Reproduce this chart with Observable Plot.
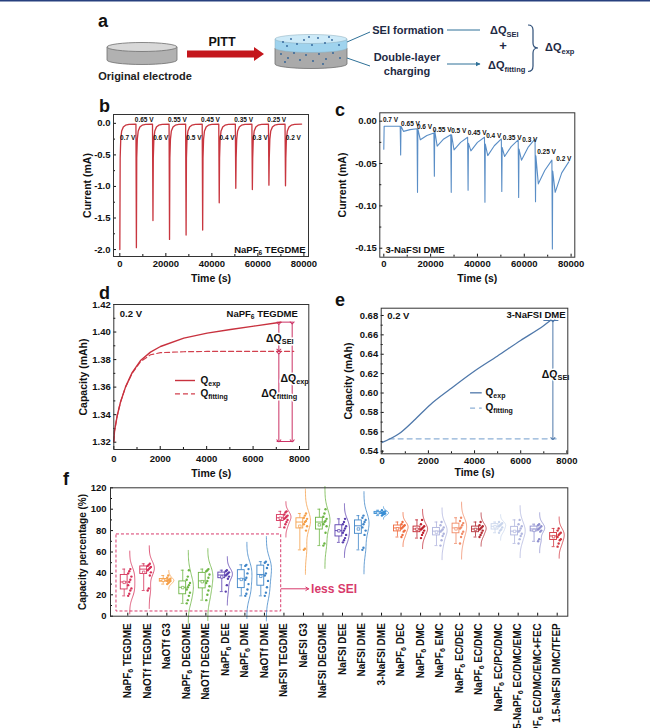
<!DOCTYPE html>
<html>
<head>
<meta charset="utf-8">
<script src="https://cdn.jsdelivr.net/npm/d3@7"></script>
<script src="https://cdn.jsdelivr.net/npm/@observablehq/plot@0.6"></script>
<style>
  html, body { margin: 0; padding: 0; background: #fff; overflow: hidden; }
  #fig { position: relative; width: 650px; height: 728px; font-family: "Liberation Sans", Arial, sans-serif; }
  .panel { position: absolute; }
</style>
</head>
<body>
<div id="fig">
  <!-- panel a: schematic -->
  <svg class="panel" style="left:0;top:0" width="650" height="100" font-family="Liberation Sans, Arial, sans-serif" font-weight="bold">
    <defs>
      <marker id="ah" viewBox="0 0 10 10" refX="9" refY="5" markerWidth="5" markerHeight="5" orient="auto">
        <path d="M0,0 L10,5 L0,10 Z" fill="#2f7198"/>
      </marker>
    </defs>
    <rect x="0" y="0" width="650" height="1.5" fill="#27407e"/>
    <text x="98" y="27" font-size="18" fill="#111">a</text>
    <path d="M107,47 L107,60 A35,4.5 0 0 0 177,60 L177,47 Z" fill="#b1b1b1" stroke="#6e6e6e" stroke-width="0.8"/>
    <ellipse cx="142" cy="47" rx="35" ry="4.5" fill="#d8d8d8" stroke="#6e6e6e" stroke-width="0.8"/>
    <text x="145" y="80" font-size="11" text-anchor="middle" fill="#222">Original electrode</text>
    <text x="222" y="46" font-size="12.5" text-anchor="middle" fill="#111">PITT</text>
    <path d="M187,50.5 L254,50.5 L254,47 L264,54 L254,61 L254,57.5 L187,57.5 Z" fill="#c4161c"/>
    <path d="M275,48 L275,64 A36,4.5 0 0 0 347,64 L347,48 Z" fill="#aaaaaa" stroke="#707070" stroke-width="0.8"/>
    <path d="M275,39 L275,48 A36,4.5 0 0 0 347,48 L347,39 Z" fill="#9fd3ee" stroke="#8ab" stroke-width="0.5"/>
    <ellipse cx="311" cy="39" rx="36" ry="4.5" fill="#cdeaf8" stroke="#8ab" stroke-width="0.5"/>
    <g fill="#2b5f95">
      <circle cx="283" cy="42" r="0.9"/><circle cx="291" cy="39" r="0.9"/><circle cx="297" cy="44" r="0.9"/>
      <circle cx="304" cy="40" r="0.9"/><circle cx="312" cy="45" r="0.9"/><circle cx="318" cy="38" r="0.9"/>
      <circle cx="325" cy="43" r="0.9"/><circle cx="332" cy="40" r="0.9"/><circle cx="339" cy="45" r="0.9"/>
      <circle cx="287" cy="46" r="0.9"/><circle cx="309" cy="37" r="0.9"/><circle cx="329" cy="37" r="0.9"/>
      <circle cx="281" cy="54" r="0.9"/><circle cx="288" cy="58" r="0.9"/><circle cx="294" cy="53" r="0.9"/>
      <circle cx="300" cy="60" r="0.9"/><circle cx="306" cy="55" r="0.9"/><circle cx="313" cy="61" r="0.9"/>
      <circle cx="319" cy="54" r="0.9"/><circle cx="326" cy="59" r="0.9"/><circle cx="333" cy="53" r="0.9"/>
      <circle cx="340" cy="58" r="0.9"/><circle cx="285" cy="62" r="0.9"/><circle cx="323" cy="64" r="0.9"/>
    </g>
    <path d="M347,42 L370,32 M347,58 L370,66" stroke="#2f7198" stroke-width="1" fill="none"/>
    <g fill="#1e2a44" text-anchor="middle" font-size="11">
      <text x="408" y="34">SEI formation</text>
      <text x="407" y="61">Double-layer</text>
      <text x="407" y="75">charging</text>
    </g>
    <path d="M447,30 L480,30 M447,64 L480,64" stroke="#2f7198" stroke-width="1" marker-end="url(#ah)"/>
    <g fill="#1e2a44" font-size="11">
      <text x="490" y="34">ΔQ<tspan font-size="7.5" dy="2.5">SEI</tspan></text>
      <text x="503" y="50" text-anchor="middle" font-size="13">+</text>
      <text x="488" y="69">ΔQ<tspan font-size="7.5" dy="2.5">fitting</tspan></text>
      <text x="545" y="51">ΔQ<tspan font-size="7.5" dy="2.5">exp</tspan></text>
    </g>
    <path d="M528,25 Q533,25 533,30 L533,43 Q533,48 538,48 Q533,48 533,53 L533,66 Q533,71.5 528,71.5" stroke="#2e4f78" stroke-width="1.2" fill="none"/>
  </svg>

  <div id="pb" class="panel" style="left:40px;top:100px;width:280px;height:195px"></div>
  <div id="pc" class="panel" style="left:320px;top:100px;width:270px;height:195px"></div>
  <div id="pd" class="panel" style="left:40px;top:290px;width:280px;height:190px"></div>
  <div id="pe" class="panel" style="left:320px;top:295px;width:260px;height:190px"></div>
  <div id="pf" class="panel" style="left:50px;top:475px;width:530px;height:253px"></div>

  <svg class="panel" style="left:0;top:0;pointer-events:none" width="650" height="728" font-family="Liberation Sans, Arial, sans-serif" font-weight="bold" font-size="18" fill="#111">
    <text x="99" y="112">b</text>
    <text x="335" y="116">c</text>
    <text x="99" y="299">d</text>
    <text x="335" y="306">e</text>
    <text x="63" y="485">f</text>
  </svg>
</div>

<script>
// ---------- data ----------
const stepTimes = [0, 7200, 14400, 21600, 28800, 36000, 43200, 50400, 57600, 64800, 72000];
const stepVolts = ["0.7 V", "0.65 V", "0.6 V", "0.55 V", "0.5 V", "0.45 V", "0.4 V", "0.35 V", "0.3 V", "0.25 V", "0.2 V"];

// b: NaPF6 TEGDME current transients
const bPeak = [-2.00, -1.97, -1.54, -1.84, -1.77, -1.69, -1.26, -1.03, -1.05, -0.98, -0.99];
const bRelaxDt = [150, 400, 800, 1500, 2500, 4000, 7000];
const bRelaxI = [-0.55, -0.25, -0.12, -0.06, -0.03, -0.018, -0.012];

// c: 3-NaFSI DME current transients
const cDt = [0, 150, 1200, 4000, 7000];
const cSpike   = [-0.033, -0.040, -0.084, -0.065, -0.084, -0.0815, -0.0957, -0.083, -0.090, -0.095, -0.151];
const cRebound = [-0.006, -0.006, -0.009, -0.011, -0.016, -0.026, -0.027, -0.031, -0.033, -0.041, -0.059];
const cDip     = [-0.006, -0.012, -0.022, -0.0295, -0.034, -0.035, -0.0406, -0.0417, -0.046, -0.074, -0.084];
const cMid     = [-0.006, -0.010, -0.017, -0.021, -0.025, -0.025, -0.029, -0.030, -0.031, -0.058, -0.061];
const cEnd     = [-0.006, -0.009, -0.014, -0.016, -0.019, -0.019, -0.021, -0.022, -0.021, -0.046, -0.048];
const cLabelT = [2860, 11400, 17380, 24940, 32030, 39890, 46980, 54840, 62360, 69500, 76890];
const cLabelI = [0.0017, -0.0035, -0.0071, -0.0102, -0.011, -0.0142, -0.0169, -0.0196, -0.022, -0.0366, -0.0444];

// d: NaPF6 TEGDME capacity at 0.2 V
const dExpTime = [0, 30, 144, 287, 503, 790, 1150, 1580, 2010, 3016, 4022, 5027, 6032, 7038, 7200];
const dExpQ = [1.3205, 1.328, 1.339, 1.349, 1.360, 1.3705, 1.3793, 1.3854, 1.3895, 1.3956, 1.3992, 1.4018, 1.4043, 1.4067, 1.4072];
const dFitTime = [0, 30, 144, 287, 503, 790, 1150, 1580, 2010, 3016, 4022, 7750];
const dFitQ = [1.3205, 1.328, 1.339, 1.349, 1.360, 1.3700, 1.3785, 1.3835, 1.3850, 1.3857, 1.3859, 1.3859];

// e: 3-NaFSI DME capacity at 0.2 V
const eExpTime = [0, 722, 1372, 2094, 2960, 3971, 4982, 5993, 7004, 7290];
const eExpQ = [0.549, 0.5579, 0.5716, 0.5882, 0.6043, 0.6222, 0.638, 0.6542, 0.6697, 0.6748];
const eFitTime = [300, 7650];
const eFitQ = [0.5527, 0.5527];

// f: capacity percentage per electrolyte
const fNames = ["NaPF_{6} TEGDME", "NaOTf TEGDME", "NaOTf G3", "NaPF_{6} DEGDME", "NaOTf DEGDME",
  "NaPF_{6} DEE", "NaPF_{6} DME", "NaOTf DME", "NaFSI TEGDME", "NaFSI G3", "NaFSI DEGDME", "NaFSI DEE",
  "NaFSI DME", "3-NaFSI DME", "NaPF_{6} DEC", "NaPF_{6} DMC", "NaPF_{6} EMC", "NaPF_{6} EC/DEC",
  "NaPF_{6} EC/DMC", "NaPF_{6} EC/PC/DMC", "1.5-NaPF_{6} EC/DMC/EMC", "NaPF_{6} EC/DMC/EMC+FEC", "1.5-NaFSI DMC/TFEP"];
const fColors = ["#d6325a", "#d6325a", "#f5a04a", "#6db544", "#6db544", "#5a3fae", "#3f85c8", "#3f85c8",
  "#d6325a", "#f5a04a", "#6db544", "#5a3fae", "#3f85c8", "#3a8ed4", "#ef6a3c", "#c0222e", "#aeb3dd",
  "#f08a66", "#b32a32", "#c9d5ec", "#b1b6de", "#8f90cf", "#d2353f"];
const fValues = [
  [19, 21, 24, 26, 29, 32, 34, 37, 40, 42, 44],
  [24, 26, 38, 41, 43, 44, 45, 46, 47, 48, 49],
  [30, 31, 32, 33, 33, 34, 34, 35, 36, 38],
  [12, 15, 19, 22, 25, 27, 29, 31, 34, 37, 43],
  [15, 20, 24, 28, 31, 33, 36, 39, 42, 43, 44],
  [23, 29, 35, 37, 38, 39, 40, 41, 42, 43],
  [19, 21, 25, 30, 34, 36, 40, 44, 47, 48],
  [19, 22, 27, 33, 38, 40, 45, 48, 50, 51],
  [83, 86, 88, 90, 91, 92, 93, 94, 95, 97, 98],
  [62, 63, 80, 84, 86, 88, 89, 91, 92, 94, 96],
  [66, 68, 78, 84, 86, 88, 89, 91, 93, 96, 100],
  [69, 71, 73, 76, 78, 80, 82, 84, 86, 88, 91],
  [62, 64, 76, 80, 83, 86, 88, 90, 92, 94],
  [94, 95, 95.5, 96, 96.5, 97, 97.5, 98, 99],
  [74, 76, 79, 80, 82, 83, 84, 85, 86, 88],
  [73, 76, 78, 80, 81, 82, 83, 84, 86, 90],
  [66, 71, 75, 77, 79, 80, 81, 83, 85, 88],
  [68, 74, 77, 79, 82, 83, 85, 87, 89, 92],
  [74, 76, 78, 80, 81, 82, 83, 84, 85, 88],
  [78, 80, 81, 83, 84, 85, 86, 87, 88],
  [68, 72, 75, 77, 79, 80, 82, 84, 86, 90],
  [70, 72, 79, 80, 81, 82, 83, 84, 85, 86],
  [65, 68, 71, 72, 74, 76, 77, 78, 80, 82]
];

// ---------- helpers ----------
const NS = "http://www.w3.org/2000/svg";
const FONT = '"Liberation Sans", Arial, sans-serif';
const baseStyle = {fontFamily: FONT, fontSize: "9.5px", fontWeight: "bold", color: "#111", background: "transparent", overflow: "visible"};
const txt = d => d;

// turn "_{...}" into real subscript tspans
function subify(root) {
  root.querySelectorAll("text, tspan").forEach(el => {
    if (el.childElementCount) return;
    const s = el.textContent;
    if (!s.includes("_{")) return;
    el.textContent = "";
    s.split(/(_\{[^}]*\})/).forEach(p => {
      if (!p) return;
      const t = document.createElementNS(NS, "tspan");
      if (p.startsWith("_{")) {
        t.textContent = p.slice(2, -1);
        t.setAttribute("font-size", "70%");
        t.setAttribute("baseline-shift", "-22%");
      } else t.textContent = p;
      el.appendChild(t);
    });
  });
}

function mount(id, plot) {
  subify(plot);
  document.getElementById(id).appendChild(plot);
}

// axis titles placed relative to the frame
const xTitle = (dy) => Plot.text(["Time (s)"], {frameAnchor: "bottom", dy, text: txt, textAnchor: "middle", lineAnchor: "middle", fontSize: 10.5});
const yTitle = (s, dx, size = 10.5) => Plot.text([s], {frameAnchor: "left", dx, rotate: -90, text: txt, textAnchor: "middle", lineAnchor: "middle", fontSize: size});

// ---------- b ----------
const bCurve = stepTimes.flatMap((t, i) => [
  {t, I: bPeak[i]},
  ...bRelaxDt.map((dt, k) => ({t: t + dt, I: bRelaxI[k]}))
]);
const bLabels = stepVolts.map((v, i) => ({v, t: stepTimes[i] + 3400, I: i % 2 ? 0.06 : -0.235}));

mount("pb", Plot.plot({
  width: 280, height: 195, marginLeft: 73, marginRight: 12, marginTop: 14, marginBottom: 39,
  style: baseStyle,
  x: {domain: [-2750, 82000]},
  y: {domain: [-2.11, 0.14]},
  marks: [
    Plot.axisX({ticks: [0, 20000, 40000, 60000, 80000], tickSize: -3, tickPadding: 6.5, tickFormat: d => String(d), label: null}),
    Plot.axisX({ticks: [10000, 30000, 50000, 70000], tickSize: -2, tickFormat: () => "", label: null}),
    Plot.axisY({ticks: [-2, -1.5, -1, -0.5, 0], tickSize: -3, tickPadding: 6, tickFormat: d => d.toFixed(1), label: null}),
    Plot.axisY({ticks: [-1.75, -1.25, -0.75, -0.25], tickSize: -2, tickFormat: () => "", label: null}),
    Plot.line(bCurve, {x: "t", y: "I", stroke: "#c8363f", strokeWidth: 1.3}),
    Plot.text(bLabels, {x: "t", y: "I", text: "v", fontSize: 6.5}),
    Plot.text(["NaPF_{6} TEGDME"], {x: 80700, y: -2.0, text: txt, textAnchor: "end", fontSize: 9.5}),
    xTitle(21.7),
    yTitle("Current (mA)", -26),
    Plot.frame({stroke: "#333"})
  ]
}));

// ---------- c ----------
const cCurve = stepTimes.flatMap((t, i) =>
  [cSpike[i], cRebound[i], cDip[i], cMid[i], cEnd[i]].map((I, k) => ({t: t + cDt[k], I}))
);
const cLabels = stepVolts.map((v, i) => ({v, t: cLabelT[i], I: cLabelI[i]}));

mount("pc", Plot.plot({
  width: 270, height: 195, marginLeft: 59.3, marginRight: 15.7, marginTop: 12.3, marginBottom: 38.3,
  style: baseStyle,
  x: {domain: [-1708, 81580]},
  y: {domain: [-0.1606, 0.0099]},
  marks: [
    Plot.axisX({ticks: [0, 20000, 40000, 60000, 80000], tickSize: -3, tickPadding: 6.5, tickFormat: d => String(d), label: null}),
    Plot.axisX({ticks: [10000, 30000, 50000, 70000], tickSize: -2, tickFormat: () => "", label: null}),
    Plot.axisY({ticks: [-0.15, -0.1, -0.05, 0], tickSize: -3, tickPadding: 6, tickFormat: d => d.toFixed(2), label: null}),
    Plot.axisY({ticks: [-0.125, -0.075, -0.025], tickSize: -2, tickFormat: () => "", label: null}),
    Plot.line(cCurve, {x: "t", y: "I", stroke: "#5a8ec6", strokeWidth: 1.1}),
    Plot.text(cLabels, {x: "t", y: "I", text: "v", fontSize: 6.5}),
    Plot.text(["3-NaFSI DME"], {x: 730, y: -0.1515, text: txt, textAnchor: "start", fontSize: 9.5}),
    xTitle(21),
    yTitle("Current (mA)", -37.6),
    Plot.frame({stroke: "#333"})
  ]
}));

// ---------- d ----------
const dExp = dExpTime.map((t, k) => ({t, q: dExpQ[k]}));
const dFit = dFitTime.map((t, k) => ({t, q: dFitQ[k]}));
const dPink = "#cc3366";
const dBars = [{t: 7110, q1: 1.4062, q2: 1.3868}, {t: 7110, q1: 1.3848, q2: 1.3210}, {t: 7684, q1: 1.4066, q2: 1.3210}];
const dCaps = [{t1: 7038, t2: 7756, q: 1.4072}, {t1: 7038, t2: 7756, q: 1.3205}];
const dNotes = [
  {s: "ΔQ_{SEI}", t: 7153, q: 1.3951},
  {s: "ΔQ_{exp}", t: 7790, q: 1.3660},
  {s: "ΔQ_{fitting}", t: 7124, q: 1.3551}
];

mount("pd", Plot.plot({
  width: 280, height: 190, marginLeft: 73.3, marginRight: 11.7, marginTop: 14, marginBottom: 31,
  style: baseStyle,
  x: {domain: [0, 8400]},
  y: {domain: [1.3147, 1.42]},
  marks: [
    Plot.axisX({ticks: [0, 2000, 4000, 6000, 8000], tickSize: -3, tickPadding: 9, tickFormat: d => String(d), label: null}),
    Plot.axisX({ticks: [1000, 3000, 5000, 7000], tickSize: -2, tickFormat: () => "", label: null}),
    Plot.axisY({ticks: [1.32, 1.34, 1.36, 1.38, 1.40, 1.42], tickSize: -3, tickPadding: 6, tickFormat: d => d.toFixed(2), label: null}),
    Plot.axisY({ticks: [1.33, 1.35, 1.37, 1.39, 1.41], tickSize: -2, tickFormat: () => "", label: null}),
    Plot.ruleY(dCaps, {y: "q", x1: "t1", x2: "t2", stroke: dPink, strokeWidth: 1}),
    Plot.line(dFit, {x: "t", y: "q", stroke: "#d2404e", strokeWidth: 1.2, strokeDasharray: "5,3"}),
    Plot.line(dExp, {x: "t", y: "q", stroke: "#c8313e", strokeWidth: 1.4}),
    Plot.link(dBars, {x1: "t", x2: "t", y1: "q1", y2: "q2", stroke: dPink, strokeWidth: 1, markerStart: "arrow", markerEnd: "arrow"}),
    Plot.text(dNotes, {x: "t", y: "q", text: "s", fontSize: 10.5, stroke: "white", strokeWidth: 3, fill: "#111"}),
    Plot.ruleY([1.3648], {x1: 2657, x2: 3519, stroke: "#c8313e", strokeWidth: 1.4}),
    Plot.ruleY([1.3551], {x1: 2657, x2: 3519, stroke: "#d2404e", strokeWidth: 1.2, strokeDasharray: "5,3"}),
    Plot.text(["Q_{exp}", "Q_{fitting}"], {x: 3734, y: (d, i) => [1.3648, 1.3551][i], text: txt, textAnchor: "start", fontSize: 10}),
    Plot.text(["0.2 V"], {x: 259, y: 1.4132, text: txt, textAnchor: "start", fontSize: 9.5}),
    Plot.text(["NaPF_{6} TEGDME"], {x: 7928, y: 1.4132, text: txt, textAnchor: "end", fontSize: 9.5}),
    xTitle(24),
    yTitle("Capacity (mAh)", -30),
    Plot.frame({stroke: "#333"})
  ]
}));

// ---------- e ----------
const eExp = eExpTime.map((t, k) => ({t, q: eExpQ[k]}));
const eFit = eFitTime.map((t, k) => ({t, q: eFitQ[k]}));
const eBlue = "#4f78aa";
const eBars = [{t: 7394, q1: 0.6745, q2: 0.5530}];
const eCaps = [{t1: 7004, t2: 7653, q: 0.6748}];

mount("pe", Plot.plot({
  width: 260, height: 190, marginLeft: 60.7, marginRight: 12.7, marginTop: 12.7, marginBottom: 31.7,
  style: baseStyle,
  x: {domain: [-45, 8040]},
  y: {domain: [0.5373, 0.6875]},
  marks: [
    Plot.axisX({ticks: [0, 2000, 4000, 6000, 8000], tickSize: -3, tickPadding: 6.5, tickFormat: d => String(d), label: null}),
    Plot.axisX({ticks: [1000, 3000, 5000, 7000], tickSize: -2, tickFormat: () => "", label: null}),
    Plot.axisY({ticks: [0.54, 0.56, 0.58, 0.60, 0.62, 0.64, 0.66, 0.68], tickSize: -3, tickPadding: 6, tickFormat: d => d.toFixed(2), label: null}),
    Plot.axisY({ticks: [0.55, 0.57, 0.59, 0.61, 0.63, 0.65, 0.67], tickSize: -2, tickFormat: () => "", label: null}),
    Plot.ruleY(eCaps, {y: "q", x1: "t1", x2: "t2", stroke: eBlue, strokeWidth: 1}),
    Plot.line(eFit, {x: "t", y: "q", stroke: "#8db0d6", strokeWidth: 1.2, strokeDasharray: "5,4"}),
    Plot.line(eExp, {x: "t", y: "q", stroke: eBlue, strokeWidth: 1.3, curve: "monotone-x"}),
    Plot.link(eBars, {x1: "t", x2: "t", y1: "q1", y2: "q2", stroke: eBlue, strokeWidth: 1, markerStart: "arrow", markerEnd: "arrow"}),
    Plot.text(["ΔQ_{SEI}"], {x: 7509, y: 0.6188, text: txt, fontSize: 10.5, stroke: "white", strokeWidth: 3, fill: "#111"}),
    Plot.ruleY([0.6002], {x1: 3827, x2: 4332, stroke: eBlue, strokeWidth: 1.3}),
    Plot.ruleY([0.5844], {x1: 3827, x2: 4332, stroke: "#8db0d6", strokeWidth: 1.2, strokeDasharray: "5,4"}),
    Plot.text(["Q_{exp}", "Q_{fitting}"], {x: 4477, y: (d, i) => [0.6002, 0.5844][i], text: txt, textAnchor: "start", fontSize: 10}),
    Plot.text(["0.2 V"], {x: 217, y: 0.6793, text: txt, textAnchor: "start", fontSize: 9.5}),
    Plot.text(["3-NaFSI DME"], {x: 7942, y: 0.6807, text: txt, textAnchor: "end", fontSize: 9.5}),
    xTitle(19),
    yTitle("Capacity (mAh)", -32.4),
    Plot.frame({stroke: "#333"})
  ]
}));

// ---------- f ----------
const fStats = fValues.map((vals, i) => {
  const s = d3.sort(vals);
  return {i, min: s[0], q1: d3.quantile(s, 0.25), med: d3.quantile(s, 0.5), q3: d3.quantile(s, 0.75), max: s[s.length - 1], mean: d3.mean(s)};
});
const fPoints = fValues.flatMap((vals, i) => vals.map((v, k) => ({i, k, v})));
// half-violin outline: gaussian kernel density of each group's points
const fViolin = fValues.flatMap((vals, i) => {
  const h = Math.max(1.06 * d3.deviation(vals) * Math.pow(vals.length, -0.2), 0.8);
  const lo = d3.min(vals) - 3 * h, hi = d3.max(vals) + 3 * h;
  const ys = d3.range(0, 61).map(j => lo + (hi - lo) * j / 60);
  const dens = ys.map(y => d3.sum(vals, v => Math.exp(-0.5 * ((y - v) / h) ** 2)));
  const m = d3.max(dens);
  return ys.map((y, j) => ({i, y, w: dens[j] / m}));
});
const col = d => fColors[d.i];
const lessSEI = {x1: -0.58, x2: 7.86, y1: 4.4, y2: 76.4, ya: 25.6, xa: 9.27};
const sPink = "#d83a6c";

mount("pf", Plot.plot({
  width: 530, height: 253, marginLeft: 60, marginRight: 12.7, marginTop: 12.3, marginBottom: 112.3,
  style: baseStyle,
  color: {type: "identity"},
  x: {domain: [-0.886, 22.543]},
  y: {domain: [0, 120]},
  marks: [
    Plot.axisX({ticks: d3.range(fNames.length), tickSize: -3, tickPadding: 10, tickRotate: -90, tickFormat: i => fNames[i], fontSize: 10, label: null}),
    Plot.axisY({ticks: [0, 20, 40, 60, 80, 100, 120], tickSize: -3, tickPadding: 7, tickFormat: d => String(d), label: null}),
    Plot.axisY({ticks: [10, 30, 50, 70, 90, 110], tickSize: -2, tickFormat: () => "", label: null}),
    Plot.rect([lessSEI], {x1: "x1", x2: "x2", y1: "y1", y2: "y2", fill: "none", stroke: sPink, strokeWidth: 1, strokeDasharray: "3,2"}),
    Plot.arrow([lessSEI], {x1: "x2", x2: "xa", y1: "ya", y2: "ya", stroke: sPink, strokeWidth: 1, headLength: 5}),
    Plot.text(["less SEI"], {x: lessSEI.xa + 0.12, y: lessSEI.ya, text: txt, textAnchor: "start", fill: sPink, fontSize: 12}),
    Plot.line(fViolin, {x: d => d.i + 0.1 + d.w * 0.26, y: "y", z: "i", stroke: col, strokeWidth: 0.8, curve: "basis"}),
    Plot.ruleX(fStats, {x: d => d.i - 0.185, y1: "min", y2: "q1", stroke: col, strokeWidth: 0.8}),
    Plot.ruleX(fStats, {x: d => d.i - 0.185, y1: "q3", y2: "max", stroke: col, strokeWidth: 0.8}),
    Plot.ruleY(fStats, {y: "min", x1: d => d.i - 0.26, x2: d => d.i - 0.11, stroke: col, strokeWidth: 0.8}),
    Plot.ruleY(fStats, {y: "max", x1: d => d.i - 0.26, x2: d => d.i - 0.11, stroke: col, strokeWidth: 0.8}),
    Plot.rect(fStats, {x1: d => d.i - 0.36, x2: d => d.i - 0.01, y1: "q1", y2: "q3", fill: "white", fillOpacity: 0.6, stroke: col, strokeWidth: 0.9}),
    Plot.ruleY(fStats, {y: "med", x1: d => d.i - 0.36, x2: d => d.i - 0.01, stroke: col, strokeWidth: 0.9}),
    Plot.dot(fStats, {x: d => d.i - 0.185, y: "mean", symbol: "square", r: 1.4, stroke: col, fill: "white", strokeWidth: 0.7}),
    Plot.dot(fPoints, {x: d => d.i + 0.02 + (d.k % 4) * 0.055, y: "v", r: 1.2, fill: col, stroke: "none"}),
    yTitle("Capacity percentage (%)", -27.3, 10),
    Plot.frame({stroke: "#333"})
  ]
}));
</script>
</body>
</html>
